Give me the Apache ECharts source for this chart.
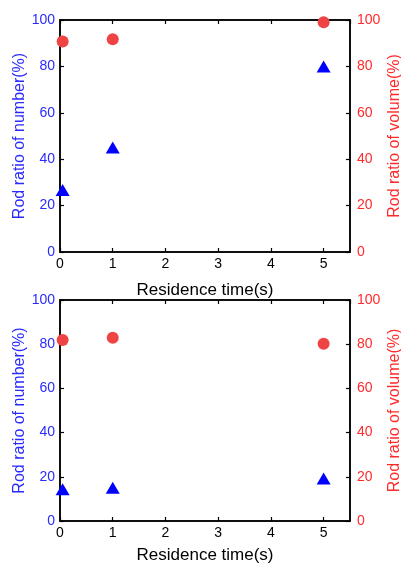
<!DOCTYPE html>
<html><head><meta charset="utf-8">
<script src="https://cdn.jsdelivr.net/npm/echarts@6/dist/echarts.min.js"></script>
<style>html,body{margin:0;padding:0;background:#fff}#c{width:401px;height:563px}</style>
</head><body><div id="c"></div>
<script>
const timeX = [0.05, 1, 5];
const topNumber = [26.7, 45, 80];
const topVolume = [90.7, 91.7, 99];
const botNumber = [14.4, 15.1, 19.2];
const botVolume = [81.9, 82.9, 80.2];
const xName = 'Residence time(s)';
const leftName = 'Rod ratio of number(%)';
const rightName = 'Rod ratio of volume(%)';

const BLUE = '#2a2aff', RED = '#ff2a2a', FONT = 'Liberation Sans';
const gridBase = {left: 60, right: 51, containLabel: false, outerBoundsMode: 'none',
  show: true, borderColor: '#000', borderWidth: 1.5, backgroundColor: 'transparent'};
const grids = [
  Object.assign({top: 20, height: 232}, gridBase),
  Object.assign({top: 300, height: 221}, gridBase)
];
const xAxes = [], yAxes = [], series = [];
const pair = (xs, ys) => xs.map((x, i) => [x, ys[i]]);
const line = () => ({show: true, onZero: false, lineStyle: {color: '#000', width: 1.5}});
const tick = () => ({show: true, inside: true, length: 4, lineStyle: {color: '#000', width: 1.2}});
[[topNumber, topVolume, 30], [botNumber, botVolume, 26]].forEach(([num, vol, gap], g) => {
  xAxes.push({type: 'value', gridIndex: g, min: 0, max: 5.5, interval: 1, position: 'bottom',
    axisLine: line(), axisTick: tick(), splitLine: {show: false},
    name: xName, nameLocation: 'middle', nameGap: gap, nameMoveOverlap: false,
    nameTextStyle: {color: '#000', fontSize: 17, fontFamily: FONT},
    axisLabel: {color: '#000', fontSize: 14, fontFamily: FONT, margin: 5, showMaxLabel: false}});
  xAxes.push({type: 'value', gridIndex: g, min: 0, max: 5.5, interval: 1, position: 'top',
    axisLine: line(), axisTick: tick(), splitLine: {show: false}, axisLabel: {show: false}});
  yAxes.push({type: 'value', gridIndex: g, min: 0, max: 100, interval: 20, position: 'left',
    axisLine: line(), axisTick: tick(), splitLine: {show: false},
    name: leftName, nameLocation: 'middle', nameGap: 32, nameMoveOverlap: false,
    nameTextStyle: {color: BLUE, fontSize: 16, fontFamily: FONT},
    axisLabel: {color: BLUE, fontSize: 14, fontFamily: FONT, margin: 5}});
  yAxes.push({type: 'value', gridIndex: g, min: 0, max: 100, interval: 20, position: 'right',
    axisLine: line(), axisTick: tick(), splitLine: {show: false},
    name: rightName, nameLocation: 'middle', nameGap: 37, nameMoveOverlap: false,
    nameTextStyle: {color: RED, fontSize: 16, fontFamily: FONT},
    axisLabel: {color: RED, fontSize: 14, fontFamily: FONT, margin: 7}});
  series.push({type: 'scatter', xAxisIndex: g * 2, yAxisIndex: g * 2 + 1, data: pair(timeX, vol),
    symbol: 'circle', symbolSize: 12, itemStyle: {color: '#ee4444', opacity: 1}});
  series.push({type: 'scatter', xAxisIndex: g * 2, yAxisIndex: g * 2, data: pair(timeX, num),
    symbol: 'triangle', symbolSize: [14, 12], itemStyle: {color: '#0000ff', opacity: 1}});
});
const chart = echarts.init(document.getElementById('c'), null, {renderer: 'canvas'});
chart.setOption({animation: false, grid: grids, xAxis: xAxes, yAxis: yAxes, series: series});
</script></body></html>
